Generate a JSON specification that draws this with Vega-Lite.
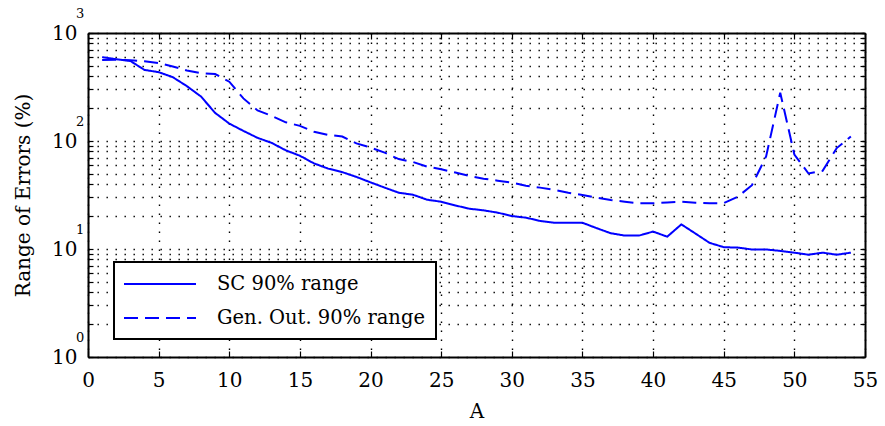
{
  "$schema": "https://vega.github.io/schema/vega-lite/v6.json",
  "width": 777,
  "height": 324,
  "autosize": {"type": "none"},
  "padding": {"left": 88, "top": 33, "right": 20, "bottom": 69},
  "background": "white",
  "config": {
    "view": {"stroke": null},
    "font": "DejaVu Serif",
    "text": {"font": "DejaVu Serif"},
    "axis": {"labelFont": "DejaVu Serif", "titleFont": "DejaVu Serif"},
    "legend": {"labelFont": "DejaVu Serif", "titleFont": "DejaVu Serif"}
  },
  "datasets": {
    "errors": [
      {"A": 1, "series": "SC 90% range", "range": 598},
      {"A": 2, "series": "SC 90% range", "range": 572},
      {"A": 3, "series": "SC 90% range", "range": 551},
      {"A": 4, "series": "SC 90% range", "range": 455},
      {"A": 5, "series": "SC 90% range", "range": 434},
      {"A": 6, "series": "SC 90% range", "range": 390},
      {"A": 7, "series": "SC 90% range", "range": 322},
      {"A": 8, "series": "SC 90% range", "range": 258},
      {"A": 9, "series": "SC 90% range", "range": 182},
      {"A": 10, "series": "SC 90% range", "range": 145},
      {"A": 11, "series": "SC 90% range", "range": 124},
      {"A": 12, "series": "SC 90% range", "range": 107},
      {"A": 13, "series": "SC 90% range", "range": 96},
      {"A": 14, "series": "SC 90% range", "range": 82},
      {"A": 15, "series": "SC 90% range", "range": 73},
      {"A": 16, "series": "SC 90% range", "range": 62},
      {"A": 17, "series": "SC 90% range", "range": 55.5},
      {"A": 18, "series": "SC 90% range", "range": 51.5},
      {"A": 19, "series": "SC 90% range", "range": 46.5},
      {"A": 20, "series": "SC 90% range", "range": 41.4},
      {"A": 21, "series": "SC 90% range", "range": 37},
      {"A": 22, "series": "SC 90% range", "range": 33.2},
      {"A": 23, "series": "SC 90% range", "range": 31.8},
      {"A": 24, "series": "SC 90% range", "range": 28.6},
      {"A": 25, "series": "SC 90% range", "range": 27.4},
      {"A": 26, "series": "SC 90% range", "range": 25.3},
      {"A": 27, "series": "SC 90% range", "range": 23.6},
      {"A": 28, "series": "SC 90% range", "range": 22.8},
      {"A": 29, "series": "SC 90% range", "range": 21.7},
      {"A": 30, "series": "SC 90% range", "range": 20.2},
      {"A": 31, "series": "SC 90% range", "range": 19.5},
      {"A": 32, "series": "SC 90% range", "range": 18.2},
      {"A": 33, "series": "SC 90% range", "range": 17.5},
      {"A": 34, "series": "SC 90% range", "range": 17.5},
      {"A": 35, "series": "SC 90% range", "range": 17.5},
      {"A": 36, "series": "SC 90% range", "range": 15.6},
      {"A": 37, "series": "SC 90% range", "range": 14},
      {"A": 38, "series": "SC 90% range", "range": 13.3},
      {"A": 39, "series": "SC 90% range", "range": 13.3},
      {"A": 40, "series": "SC 90% range", "range": 14.5},
      {"A": 41, "series": "SC 90% range", "range": 13},
      {"A": 42, "series": "SC 90% range", "range": 16.9},
      {"A": 43, "series": "SC 90% range", "range": 13.9},
      {"A": 44, "series": "SC 90% range", "range": 11.4},
      {"A": 45, "series": "SC 90% range", "range": 10.4},
      {"A": 46, "series": "SC 90% range", "range": 10.3},
      {"A": 47, "series": "SC 90% range", "range": 9.9},
      {"A": 48, "series": "SC 90% range", "range": 9.9},
      {"A": 49, "series": "SC 90% range", "range": 9.6},
      {"A": 50, "series": "SC 90% range", "range": 9.25},
      {"A": 51, "series": "SC 90% range", "range": 8.85},
      {"A": 52, "series": "SC 90% range", "range": 9.25},
      {"A": 53, "series": "SC 90% range", "range": 8.85},
      {"A": 54, "series": "SC 90% range", "range": 9.25},
      {"A": 1, "series": "Gen. Out. 90% range", "range": 562},
      {"A": 2, "series": "Gen. Out. 90% range", "range": 565},
      {"A": 3, "series": "Gen. Out. 90% range", "range": 560},
      {"A": 4, "series": "Gen. Out. 90% range", "range": 547},
      {"A": 5, "series": "Gen. Out. 90% range", "range": 526},
      {"A": 6, "series": "Gen. Out. 90% range", "range": 490},
      {"A": 7, "series": "Gen. Out. 90% range", "range": 450},
      {"A": 8, "series": "Gen. Out. 90% range", "range": 424},
      {"A": 9, "series": "Gen. Out. 90% range", "range": 417},
      {"A": 10, "series": "Gen. Out. 90% range", "range": 354},
      {"A": 11, "series": "Gen. Out. 90% range", "range": 248},
      {"A": 12, "series": "Gen. Out. 90% range", "range": 192},
      {"A": 13, "series": "Gen. Out. 90% range", "range": 171},
      {"A": 14, "series": "Gen. Out. 90% range", "range": 149},
      {"A": 15, "series": "Gen. Out. 90% range", "range": 138},
      {"A": 16, "series": "Gen. Out. 90% range", "range": 122},
      {"A": 17, "series": "Gen. Out. 90% range", "range": 114},
      {"A": 18, "series": "Gen. Out. 90% range", "range": 110},
      {"A": 19, "series": "Gen. Out. 90% range", "range": 95},
      {"A": 20, "series": "Gen. Out. 90% range", "range": 87},
      {"A": 21, "series": "Gen. Out. 90% range", "range": 78},
      {"A": 22, "series": "Gen. Out. 90% range", "range": 68},
      {"A": 23, "series": "Gen. Out. 90% range", "range": 64},
      {"A": 24, "series": "Gen. Out. 90% range", "range": 58},
      {"A": 25, "series": "Gen. Out. 90% range", "range": 54.7},
      {"A": 26, "series": "Gen. Out. 90% range", "range": 51},
      {"A": 27, "series": "Gen. Out. 90% range", "range": 47.4},
      {"A": 28, "series": "Gen. Out. 90% range", "range": 44.8},
      {"A": 29, "series": "Gen. Out. 90% range", "range": 42.9},
      {"A": 30, "series": "Gen. Out. 90% range", "range": 41.1},
      {"A": 31, "series": "Gen. Out. 90% range", "range": 38.6},
      {"A": 32, "series": "Gen. Out. 90% range", "range": 37},
      {"A": 33, "series": "Gen. Out. 90% range", "range": 35.2},
      {"A": 34, "series": "Gen. Out. 90% range", "range": 33.2},
      {"A": 35, "series": "Gen. Out. 90% range", "range": 31.6},
      {"A": 36, "series": "Gen. Out. 90% range", "range": 29.9},
      {"A": 37, "series": "Gen. Out. 90% range", "range": 28.4},
      {"A": 38, "series": "Gen. Out. 90% range", "range": 27.4},
      {"A": 39, "series": "Gen. Out. 90% range", "range": 26.5},
      {"A": 40, "series": "Gen. Out. 90% range", "range": 26.5},
      {"A": 41, "series": "Gen. Out. 90% range", "range": 27},
      {"A": 42, "series": "Gen. Out. 90% range", "range": 27.4},
      {"A": 43, "series": "Gen. Out. 90% range", "range": 26.8},
      {"A": 44, "series": "Gen. Out. 90% range", "range": 26.5},
      {"A": 45, "series": "Gen. Out. 90% range", "range": 26.6},
      {"A": 46, "series": "Gen. Out. 90% range", "range": 30.5},
      {"A": 47, "series": "Gen. Out. 90% range", "range": 39},
      {"A": 48, "series": "Gen. Out. 90% range", "range": 72},
      {"A": 49, "series": "Gen. Out. 90% range", "range": 280},
      {"A": 50, "series": "Gen. Out. 90% range", "range": 75},
      {"A": 51, "series": "Gen. Out. 90% range", "range": 50},
      {"A": 52, "series": "Gen. Out. 90% range", "range": 53},
      {"A": 53, "series": "Gen. Out. 90% range", "range": 86},
      {"A": 54, "series": "Gen. Out. 90% range", "range": 110}
    ],
    "exponents": [
      {"power": 1, "exponent": "0"},
      {"power": 10, "exponent": "1"},
      {"power": 100, "exponent": "2"},
      {"power": 1000, "exponent": "3"}
    ]
  },
  "layer": [
    {
      "data": {"name": "errors"},
      "mark": {"type": "line", "color": "#0000ff", "strokeWidth": 2},
      "encoding": {
        "x": {
          "field": "A",
          "type": "quantitative",
          "scale": {"domain": [0, 55], "nice": false, "zero": false},
          "axis": {
            "orient": "bottom",
            "values": [0, 5, 10, 15, 20, 25, 30, 35, 40, 45, 50, 55],
            "grid": true,
            "gridColor": "black",
            "gridOpacity": 1,
            "gridWidth": 1.4,
            "gridDash": [1.4, 7.6],
            "domainColor": "black",
            "domainWidth": 2,
            "tickColor": "black",
            "tickWidth": 1.2,
            "tickSize": -6,
            "labelFontSize": 20,
            "labelColor": "black",
            "labelPadding": 19,
            "labelDx": 6,
            "labelFlush": false,
            "labelOverlap": false,
            "title": "A",
            "titleFontSize": 20,
            "titleFontWeight": "normal",
            "titleColor": "black",
            "titlePadding": 11
          }
        },
        "y": {
          "field": "range",
          "type": "quantitative",
          "scale": {"type": "log", "domain": [1, 1000], "nice": false},
          "axis": {
            "orient": "left",
            "values": [1, 2, 3, 4, 5, 6, 7, 8, 9, 10, 20, 30, 40, 50, 60, 70, 80, 90, 100, 200, 300, 400, 500, 600, 700, 800, 900, 1000],
            "labelExpr": "datum.value == 1 || datum.value == 10 || datum.value == 100 || datum.value == 1000 ? '10' : ''",
            "grid": true,
            "gridColor": "black",
            "gridOpacity": 1,
            "gridWidth": 1.4,
            "gridDash": [1.4, 7.6],
            "domainColor": "black",
            "domainWidth": 2,
            "tickColor": "black",
            "tickWidth": 1.2,
            "tickSize": -5,
            "labelFontSize": 20,
            "labelColor": "black",
            "labelPadding": 16,
            "labelDy": 2,
            "labelFlush": false,
            "labelOverlap": false,
            "title": "Range of Errors (%)",
            "titleFontSize": 20,
            "titleFontWeight": "normal",
            "titleColor": "black",
            "titlePadding": 18
          }
        },
        "strokeDash": {
          "field": "series",
          "type": "nominal",
          "scale": {
            "domain": ["SC 90% range", "Gen. Out. 90% range"],
            "range": [[1, 0], [14, 7]]
          },
          "legend": {
            "title": null,
            "orient": "none",
            "legendX": 26,
            "legendY": 229,
            "padding": 11,
            "rowPadding": 13,
            "fillColor": "white",
            "strokeColor": "black",
            "cornerRadius": 0,
            "labelFontSize": 19.5,
            "labelColor": "black",
            "labelLimit": 400,
            "labelOffset": 70,
            "symbolType": "M-1.2,0H6",
            "symbolSize": 400,
            "symbolStrokeWidth": 2,
            "symbolStrokeColor": "#0000ff",
            "symbolFillColor": "transparent",
            "encode": {
              "legend": {"update": {"strokeWidth": {"value": 2}}}
            }
          }
        }
      }
    },
    {
      "data": {"name": "errors"},
      "mark": {"type": "point", "opacity": 0},
      "encoding": {
        "x": {
          "field": "A",
          "type": "quantitative",
          "axis": {
            "orient": "top",
            "values": [0, 5, 10, 15, 20, 25, 30, 35, 40, 45, 50, 55],
            "labels": false,
            "grid": false,
            "domainColor": "black",
            "domainWidth": 2,
            "tickColor": "black",
            "tickWidth": 1.2,
            "tickSize": -6,
            "title": null
          }
        },
        "y": {
          "field": "range",
          "type": "quantitative",
          "axis": {
            "orient": "right",
            "values": [1, 2, 3, 4, 5, 6, 7, 8, 9, 10, 20, 30, 40, 50, 60, 70, 80, 90, 100, 200, 300, 400, 500, 600, 700, 800, 900, 1000],
            "labels": false,
            "grid": false,
            "domainColor": "black",
            "domainWidth": 2,
            "tickColor": "black",
            "tickWidth": 1.2,
            "tickSize": -5,
            "title": null
          }
        }
      }
    },
    {
      "data": {"name": "exponents"},
      "mark": {
        "type": "text",
        "font": "DejaVu Serif",
        "fontSize": 13,
        "color": "black",
        "align": "left",
        "baseline": "middle",
        "dx": -12,
        "dy": -19
      },
      "encoding": {
        "x": {"datum": 0, "type": "quantitative", "axis": null},
        "y": {"field": "power", "type": "quantitative", "axis": null},
        "text": {"field": "exponent"}
      }
    }
  ],
  "resolve": {"axis": {"x": "independent", "y": "independent"}}
}
